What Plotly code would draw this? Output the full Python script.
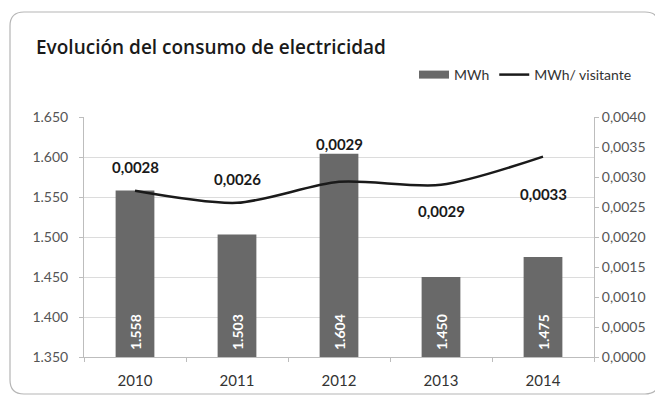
import plotly.graph_objects as go

years = ["2010", "2011", "2012", "2013", "2014"]
mwh = [1558, 1503, 1604, 1450, 1475]
mwh_visitante = [0.00277, 0.00257, 0.00292, 0.00287, 0.00334]
line_label_shift = [24, 24, 38, -26, -37]

# page has an 8px body margin: work in page pixels, convert to figure coords
OFF = 8
W, H = 655, 392
PL, PR, PT, PB = 84, 594, 117, 357          # plot area in page pixels
L, R, T, B = PL - OFF, W - (PR - OFF), PT - OFF, H - (PB - OFF)
pw, ph = W - L - R, H - T - B

def px(x):
    return (x - OFF - L) / pw

def py(y):
    return (H - B - (y - OFF)) / ph

font = "Lato, 'Open Sans', sans-serif"
bar_color = "#696969"

fig = go.Figure()
fig.add_trace(go.Bar(
    x=years, y=mwh, name="MWh", marker=dict(color=bar_color, line=dict(width=0)),
    width=0.38, yaxis="y", showlegend=False,
))
fig.add_trace(go.Scatter(
    x=[None], y=[None], name="MWh", mode="lines",
    line=dict(color=bar_color, width=8), yaxis="y", showlegend=True,
))
fig.add_trace(go.Scatter(
    x=years, y=mwh_visitante, name="MWh/ visitante", mode="lines",
    line=dict(color="#1a1a1a", width=2.5, shape="spline", smoothing=0.8),
    yaxis="y2",
))

for i, (v, s) in enumerate(zip(mwh_visitante, line_label_shift)):
    fig.add_annotation(x=i, y=v, xref="x", yref="y2", text=f"{v:.4f}".replace(".", ","),
                       showarrow=False, yshift=s,
                       font=dict(size=15, color="#1a1a1a", family=font, weight="bold"))

for i, v in enumerate(mwh):
    fig.add_annotation(x=i, y=1350, xref="x", yref="y", text=f"{v:,}".replace(",", "."),
                       showarrow=False, textangle=-90, yanchor="bottom", yshift=5,
                       font=dict(size=14, color="white", family=font, weight="bold"))

# rounded border (page pixels)
x0, x1, y0, y1, r = 10, 659, 12, 394, 14
path = (f"M {px(x0+r)},{py(y0)} L {px(x1-r)},{py(y0)} Q {px(x1)},{py(y0)} {px(x1)},{py(y0+r)} "
        f"L {px(x1)},{py(y1-r)} Q {px(x1)},{py(y1)} {px(x1-r)},{py(y1)} "
        f"L {px(x0+r)},{py(y1)} Q {px(x0)},{py(y1)} {px(x0)},{py(y1-r)} "
        f"L {px(x0)},{py(y0+r)} Q {px(x0)},{py(y0)} {px(x0+r)},{py(y0)} Z")
fig.add_shape(type="path", path=path, xref="paper", yref="paper",
              line=dict(color="#b5b5b5", width=1.2), layer="below")

fig.add_annotation(x=px(34), y=py(47), xref="paper", yref="paper", xanchor="left",
                   yanchor="middle", showarrow=False,
                   text="Evolución del consumo de electricidad",
                   font=dict(size=19, color="#1a1a1a", family="'Open Sans', sans-serif",
                             weight=600))

fig.update_layout(
    width=W, height=H, margin=dict(l=L, r=R, t=T, b=B),
    paper_bgcolor="white", plot_bgcolor="white",
    separators=",.",
    font=dict(family=font, color="#444"),
    showlegend=True,
    legend=dict(orientation="h", x=px(414), xanchor="left", y=py(75), yanchor="middle",
                font=dict(size=14, color="#333", family=font), traceorder="normal",
                itemwidth=30, bgcolor="rgba(0,0,0,0)"),
    xaxis=dict(type="category", range=[-0.5, 4.5], autorange=False, showline=True,
               linecolor="#bdbdbd", ticks="outside", tickson="boundaries", ticklen=4,
               tickcolor="#bdbdbd", ticklabelstandoff=10,
               tickfont=dict(size=15, color="#333"), showgrid=False),
    yaxis=dict(range=[1350, 1650], autorange=False, dtick=50, tickformat=",d", showgrid=True,
               gridcolor="#dcdcdc", showline=True, linecolor="#bdbdbd", ticks="outside",
               ticklen=4, tickcolor="#bdbdbd", ticklabelstandoff=8,
               tickfont=dict(size=14, color="#555"), zeroline=False),
    yaxis2=dict(range=[0, 0.004], autorange=False, dtick=0.0005, tickformat=".4f", overlaying="y",
                side="right", showgrid=False, showline=True, linecolor="#bdbdbd", ticks="outside",
                ticklen=4, tickcolor="#bdbdbd", tickfont=dict(size=14, color="#555"), zeroline=False),
)

fig.write_html("out.html")
